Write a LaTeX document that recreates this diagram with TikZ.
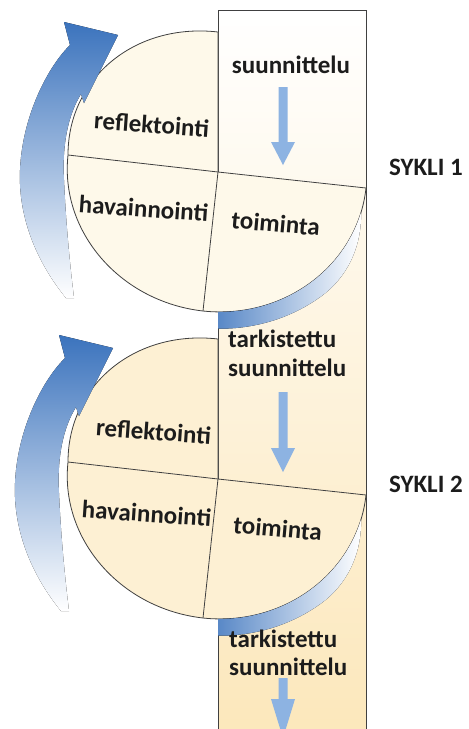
\documentclass[tikz,border=0pt]{standalone}
\usepackage{fontspec}
\setmainfont{Carlito}
\definecolor{linec}{HTML}{404040}
\definecolor{creamA}{HTML}{FEF9EA}
\definecolor{creamB}{HTML}{FDF0D3}
\definecolor{rectbot}{HTML}{FCE7BA}
\definecolor{darrow}{HTML}{8DB3E2}
\definecolor{bigblue}{HTML}{3B73BD}
\definecolor{midblue}{HTML}{7BA3D6}
\definecolor{txt}{HTML}{1C1C1C}
\tikzset{
  lab/.style={font=\fontsize{25}{30}\selectfont\bfseries, text=txt, inner sep=0pt, anchor=base},
  labl/.style={lab, anchor=base west},
  outline/.style={draw=linec, line width=0.8pt},
  downarrow/.style={fill=darrow, draw=none},
  bigarrow/.style={top color=bigblue, middle color=midblue, bottom color=white, draw=none},
  band/.style={left color=bigblue, right color=white, draw=none}
}
\newcommand{\ellipsepiece}[2]{%
  \coordinate (c#1) at (218,172);
  \coordinate (R#1) at (366,188);
  \coordinate (B#1) at (203,311);
  \coordinate (L#1) at (68,155);
  \coordinate (T#1) at (218,32);
  \fill[#2] (c#1) -- (R#1) .. controls (357.7,264.8) and (284.7,319.8) .. (B#1)
     .. controls (120.2,301.6) and (59.7,231.8) .. (L#1)
     .. controls (68,77.7) and (135.2,22.6) .. (T#1) -- cycle;
  \draw[outline] (R#1) .. controls (357.7,264.8) and (284.7,319.8) .. (B#1)
     .. controls (120.2,301.6) and (59.7,231.8) .. (L#1)
     .. controls (68,77.7) and (135.2,22.6) .. (T#1);
  \draw[outline] (L#1) -- (c#1) -- (R#1);
  \draw[outline] (T#1) -- (c#1) -- (B#1);
}
\newcommand{\bandpiece}{%
  \begin{scope}
    \clip (218,0) rectangle (366,729);
    \fill[band] plot[domain=10:93,samples=40] ({218+148*cos(\x)-15*sin(\x)},{172+16*cos(\x)+139*sin(\x)})
      -- plot[domain=93:10,samples=40] ({218+(148*cos(\x)-15*sin(\x))*(1+0.12*sin(min(90,(\x-10)*2.5)))},{172+(16*cos(\x)+139*sin(\x))*(1+0.12*sin(min(90,(\x-10)*2.5)))}) -- cycle;
  \end{scope}
}
\begin{document}
\begin{tikzpicture}[x=1pt,y=-1pt]
\useasboundingbox (0,0) rectangle (469,729);
\clip (0,0) rectangle (469,729);
% column
\fill[top color=white, bottom color=rectbot] (218,10) rectangle (366,745);
\draw[outline] (218,10) rectangle (366,745);
% cycle 1
\ellipsepiece{a}{creamA}
% cycle 2
\begin{scope}[shift={(0,307)}]
\ellipsepiece{b}{creamB}
\end{scope}
% bands
\bandpiece
\begin{scope}[shift={(0,307)}]
\bandpiece
\end{scope}
% big curved arrows
\fill[bigarrow] (66,298) .. controls (35,260) and (18,215) .. (20,170)
   .. controls (22,120) and (45,70) .. (70,45) -- (64,22) -- (118,35) -- (84,103) -- (81,94)
   .. controls (68,115) and (62,145) .. (64,180)
   .. controls (66,225) and (70,265) .. (74,298) -- cycle;
\begin{scope}[shift={(-5,313)}]
\fill[bigarrow] (66,298) .. controls (35,260) and (18,215) .. (20,170)
   .. controls (22,120) and (45,70) .. (70,45) -- (64,22) -- (118,35) -- (84,103) -- (81,94)
   .. controls (68,115) and (62,145) .. (64,180)
   .. controls (66,225) and (70,265) .. (74,298) -- cycle;
\end{scope}
% down arrows
\fill[downarrow] (278.5,87) -- (287.5,87) -- (287.5,142) -- (295,142) -- (283,165) -- (271,142) -- (278.5,142) -- cycle;
\fill[downarrow] (278.5,392) -- (287.5,392) -- (287.5,448) -- (295,448) -- (283,472) -- (271,448) -- (278.5,448) -- cycle;
\fill[downarrow] (278.5,678) -- (287.5,678) -- (287.5,699) -- (295,699) -- (283,738) -- (271,699) -- (278.5,699) -- cycle;
% labels
\node[lab] (s1) at (291,73) {suunnittelu};
\node[lab, rotate=-4] (r1) at (151,133) {reflektointi};
\node[lab, rotate=-4] (h1) at (143,217) {havainnointi};
\node[lab, rotate=-5] (t1) at (275,232) {toiminta};
\node[lab] (k1) at (426,175) {SYKLI 1};
\node[labl] (ta2) at (228,347) {tarkistettu};
\node[labl] (su2) at (228,376) {suunnittelu};
\node[lab, rotate=-4] (r2) at (153,440) {reflektointi};
\node[lab, rotate=-4] (h2) at (146,522) {havainnointi};
\node[lab, rotate=-5] (t2) at (277,537) {toiminta};
\node[lab] (k2) at (426,492) {SYKLI 2};
\node[labl] (ta3) at (229,647) {tarkistettu};
\node[labl] (su3) at (229,675) {suunnittelu};
\end{tikzpicture}
\end{document}
